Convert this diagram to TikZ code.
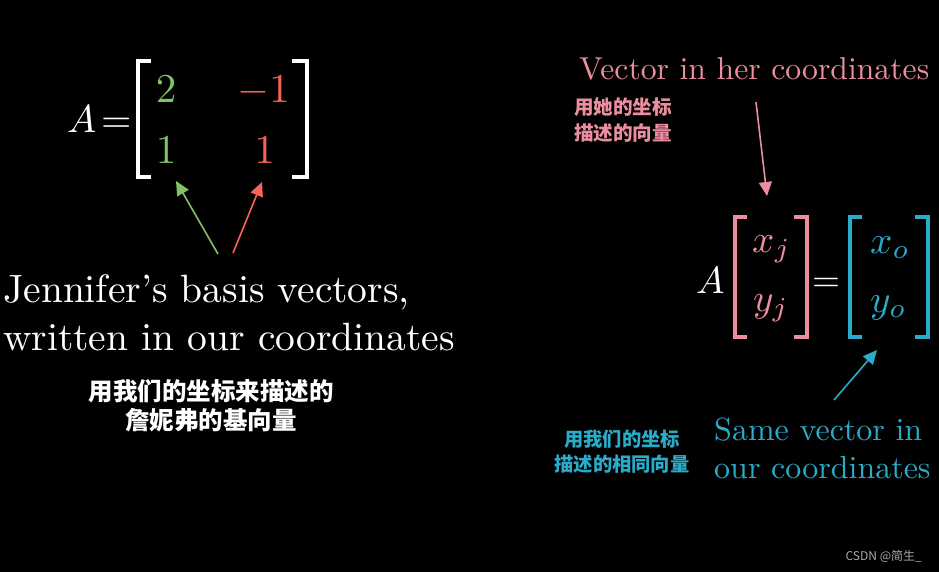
\documentclass[tikz,border=0pt]{standalone}
\usepackage{fontspec}
\newfontfamily\cjk{Noto Sans CJK SC}
\usetikzlibrary{arrows.meta}
\definecolor{mgreen}{HTML}{83C167}
\definecolor{mred}{HTML}{FC6255}
\definecolor{mpink}{RGB}{236,141,160}
\definecolor{mblue}{HTML}{29ABCA}
\definecolor{wmgray}{RGB}{170,170,170}
\tikzset{
  brk/.style={line width=3.6pt},
  ptr/.style={line width=1.6pt,-{Triangle[length=14pt,width=13pt]}},
  zh/.style={font=\cjk\bfseries\fontsize{#1}{#1}\selectfont,inner sep=0pt,align=center},
  tx/.style={inner sep=0pt},
}
\begin{document}
\begin{tikzpicture}[x=1pt,y=-1pt]
\fill[black] (0,0) rectangle (939,572);
\useasboundingbox (0,0) rectangle (939,572);
% ---------- left matrix ----------
\node[tx,white,anchor=base west] (A1) at (67,133) {\scalebox{3.9}{$A$}};
\node[tx,white,anchor=base west] (eq1) at (101,133) {\scalebox{3.9}{$=$}};
\draw[brk,white] (151,61) -- (138,61) -- (138,177) -- (151,177);
\draw[brk,white] (292,61) -- (307,61) -- (307,177) -- (292,177);
\node[tx,mgreen,anchor=base] (a11) at (166,103) {\scalebox{4.1}{$2$}};
\node[tx,mgreen,anchor=base] (a21) at (166,164) {\scalebox{4.1}{$1$}};
\node[tx,mred,anchor=base east] (a12) at (290,103) {\scalebox{4.1}{$-1$}};
\node[tx,mred,anchor=base] (a22) at (264.5,164) {\scalebox{4.1}{$1$}};
\coordinate (gtip) at (176,181);
\coordinate (gtail) at (218,254);
\coordinate (rtip) at (262,182);
\coordinate (rtail) at (233,253);
\draw[ptr,mgreen] (gtail) -- (gtip);
\draw[ptr,mred] (rtail) -- (rtip);
\node[tx,white,anchor=base west] (jen1) at (3,302) {\scalebox{3.95}{Jennifer's basis vectors,}};
\node[tx,white,anchor=base west] (jen2) at (3,350) {\scalebox{3.95}{written in our coordinates}};
\node[zh=24.5,white] (zh1) at (211,406) {用我们的坐标来描述的\\[4pt]詹妮弗的基向量};
% ---------- right side ----------
\node[tx,mpink,anchor=base west] (her) at (579,80) {\scalebox{3.17}{Vector in her coordinates}};
\node[zh=19.6,mpink] (zh2) at (623,120) {用她的坐标\\[6pt]描述的向量};
\coordinate (ptail) at (756,102);
\coordinate (ptip) at (767,196);
\draw[ptr,mpink] (ptail) -- (ptip);
\node[tx,white,anchor=base west] (A2) at (696,293) {\scalebox{3.8}{$A$}};
\draw[brk,mpink] (747,217) -- (735,217) -- (735,337) -- (747,337);
\draw[brk,mpink] (794,217) -- (807,217) -- (807,337) -- (794,337);
\node[tx,mpink,anchor=base west] (xj) at (752,252) {\scalebox{3.9}{$x_j$}};
\node[tx,mpink,anchor=base west] (yj) at (753,311) {\scalebox{3.9}{$y_j$}};
\node[tx,white,anchor=base west] (eq2) at (812,291) {\scalebox{3.6}{$=$}};
\draw[brk,mblue] (862,217) -- (850,217) -- (850,337) -- (862,337);
\draw[brk,mblue] (915,217) -- (928,217) -- (928,337) -- (915,337);
\node[tx,mblue,anchor=base west] (xo) at (870,253) {\scalebox{3.9}{$x_o$}};
\node[tx,mblue,anchor=base west] (yo) at (870,312) {\scalebox{3.9}{$y_o$}};
\coordinate (btail) at (834,400);
\coordinate (btip) at (877,350);
\draw[ptr,mblue] (btail) -- (btip);
\node[tx,mblue,anchor=base west] (same1) at (714,440) {\scalebox{3.2}{Same vector in}};
\node[tx,mblue,anchor=base west] (same2) at (714,478) {\scalebox{3.2}{our coordinates}};
\node[zh=19.3,mblue] (zh3) at (622,452) {用我们的坐标\\[6pt]描述的相同向量};
\node[font=\cjk\fontsize{12}{12}\selectfont,wmgray,anchor=east,inner sep=0pt] (wm) at (922,556) {CSDN @简生\_};
\end{tikzpicture}
\end{document}
